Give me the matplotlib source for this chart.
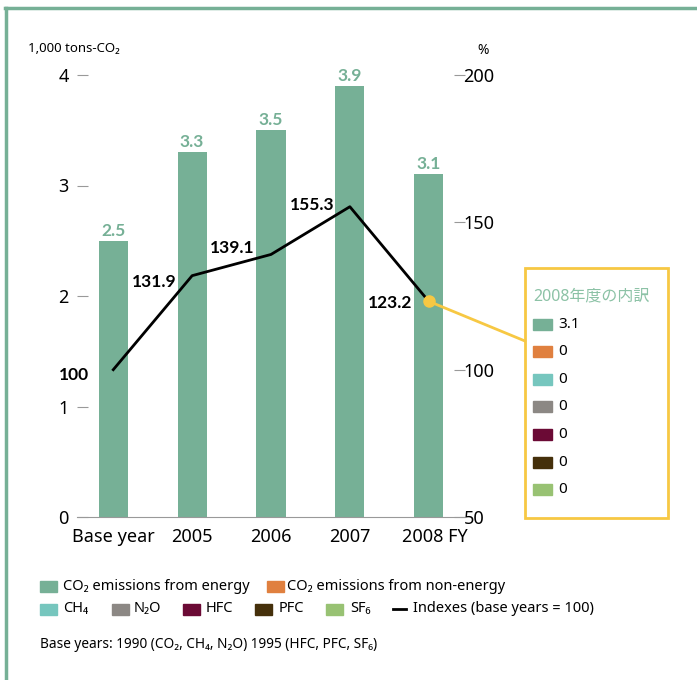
import matplotlib.pyplot as plt
from matplotlib.patches import Rectangle, ConnectionPatch
from matplotlib.lines import Line2D
from matplotlib.transforms import ScaledTranslation

plt.rcParams['font.family'] = ['Noto Sans', 'Noto Sans CJK JP', 'DejaVu Sans']
BOLD = ['Lato', 'DejaVu Sans']

years = ["Base year", "2005", "2006", "2007", "2008 FY"]
emissions = [2.5, 3.3, 3.5, 3.9, 3.1]
indexes = [100, 131.9, 139.1, 155.3, 123.2]

gas_names = ["CO\u2082 emissions from energy", "CO\u2082 emissions from non-energy",
             "CH\u2084", "N\u2082O", "HFC", "PFC", "SF\u2086"]
gas_colors = ["#76b096", "#e0803f", "#76c6be", "#8c8884", "#6b0a35", "#45300b", "#98c273"]
breakdown_2008 = [3.1, 0, 0, 0, 0, 0, 0]

W, H = 697, 680
GREEN = "#76b096"
YELLOW = "#f7c843"


def px(x, y):
    return x / W, 1 - y / H


fig = plt.figure(figsize=(W / 100, H / 100), dpi=100)
ax = fig.add_axes([77 / W, 1 - 517 / H, (465 - 77) / W, (517 - 75) / H])
ax2 = ax.twinx()

pos = list(range(len(years)))
ax.bar(pos, emissions, width=0.37, color=GREEN, zorder=2)
for x, v in zip(pos, emissions):
    ax.annotate(f"{v}", (x, v), xytext=(0, 2), textcoords="offset pixels",
                ha="center", va="bottom", color=GREEN, fontsize=12.5,
                fontweight="bold", family=BOLD)

ax.set_xlim(-0.46, 4.46)
ax.set_ylim(0, 4)
ax.set_yticks([0, 1, 2, 3, 4])
ax.set_xticks(pos)
ax.set_xticklabels(years, fontsize=13)
ax.tick_params(axis="x", length=0, pad=8)
ax.tick_params(axis="y", direction="in", length=8, width=0.8, color="#999999",
               labelsize=13, pad=6)
for s in ["top", "right", "left"]:
    ax.spines[s].set_visible(False)
ax.spines["bottom"].set_color("#999999")
lab = ax.get_xticklabels()[-1]
lab.set_transform(lab.get_transform() + ScaledTranslation(0.06, 0, fig.dpi_scale_trans))

ax2.set_ylim(50, 200)
ax2.set_yticks([50, 100, 150, 200])
ax2.tick_params(axis="y", direction="in", length=8, width=0.8, color="#999999",
                labelsize=13, pad=-1)
for s in ["top", "right", "left", "bottom"]:
    ax2.spines[s].set_visible(False)

ax2.plot(pos, indexes, color="black", lw=2, zorder=3)
ax2.plot(pos[-1], indexes[-1], "o", color=YELLOW, ms=8, zorder=4)
offsets = [(-24, -5), (-16, -6), (-16, 6), (-15, 2), (-16, -2)]
for x, v, off in zip(pos, indexes, offsets):
    ax2.annotate(f"{v:g}", (x, v), xytext=off, textcoords="offset pixels",
                 ha="right", va="center", fontsize=12.5, fontweight="bold",
                 family=BOLD)

fig.text(*px(28, 48), "1,000 tons-CO\u2082", fontsize=9.5, va="center")
fig.text(*px(483, 50), "%", fontsize=10, va="center", ha="center")

# frame lines
fig.add_artist(Line2D([5 / W, 1], [1 - 8 / H, 1 - 8 / H], color=GREEN, lw=2.5))
fig.add_artist(Line2D([5.5 / W, 5.5 / W], [0, 1 - 8 / H], color=GREEN, lw=2.5))

# 2008 breakdown box
bx0, by0, bx1, by1 = 525, 268, 668, 518
fig.add_artist(Rectangle(px(bx0, by1), (bx1 - bx0) / W, (by1 - by0) / H,
                         fill=False, edgecolor=YELLOW, lw=2, transform=fig.transFigure))
fig.text(*px(533, 296), "2008年度の内訳", color="#8cc2a6", fontsize=11.5, va="center")
for i, (c, v) in enumerate(zip(gas_colors, breakdown_2008)):
    yc = 324 + 27.6 * i
    fig.add_artist(Rectangle(px(533, yc + 5.5), 19 / W, 11 / H, color=c,
                             transform=fig.transFigure))
    fig.text(*px(558, yc), f"{v:g}", fontsize=11, va="center")

con = ConnectionPatch(xyA=(pos[-1], indexes[-1]), coordsA=ax2.transData,
                      xyB=(bx0, H - 341), coordsB="figure pixels",
                      color=YELLOW, lw=2, zorder=1)
fig.add_artist(con)

# bottom legend
legend_items = [
    (40, 586, 63, 0), (267, 586, 287, 1),
    (40, 609, 63, 2), (112, 609, 134, 3), (183, 609, 206, 4),
    (255, 609, 279, 5), (326, 609, 350, 6),
]
for sx, yc, tx, k in legend_items:
    fig.add_artist(Rectangle(px(sx, yc + 5.5), 17 / W, 11 / H, color=gas_colors[k],
                             transform=fig.transFigure))
    fig.text(*px(tx, yc), gas_names[k], fontsize=10.5, va="center")
fig.add_artist(Line2D([393 / W, 406 / W], [1 - 609 / H] * 2, color="black", lw=2))
fig.text(*px(413, 609), "Indexes (base years = 100)", fontsize=10.5, va="center")

fig.text(*px(40, 644), "Base years: 1990 (CO\u2082, CH\u2084, N\u2082O) 1995 (HFC, PFC, SF\u2086)",
         fontsize=9.8, va="center")

fig.savefig("out.png", dpi=100)
